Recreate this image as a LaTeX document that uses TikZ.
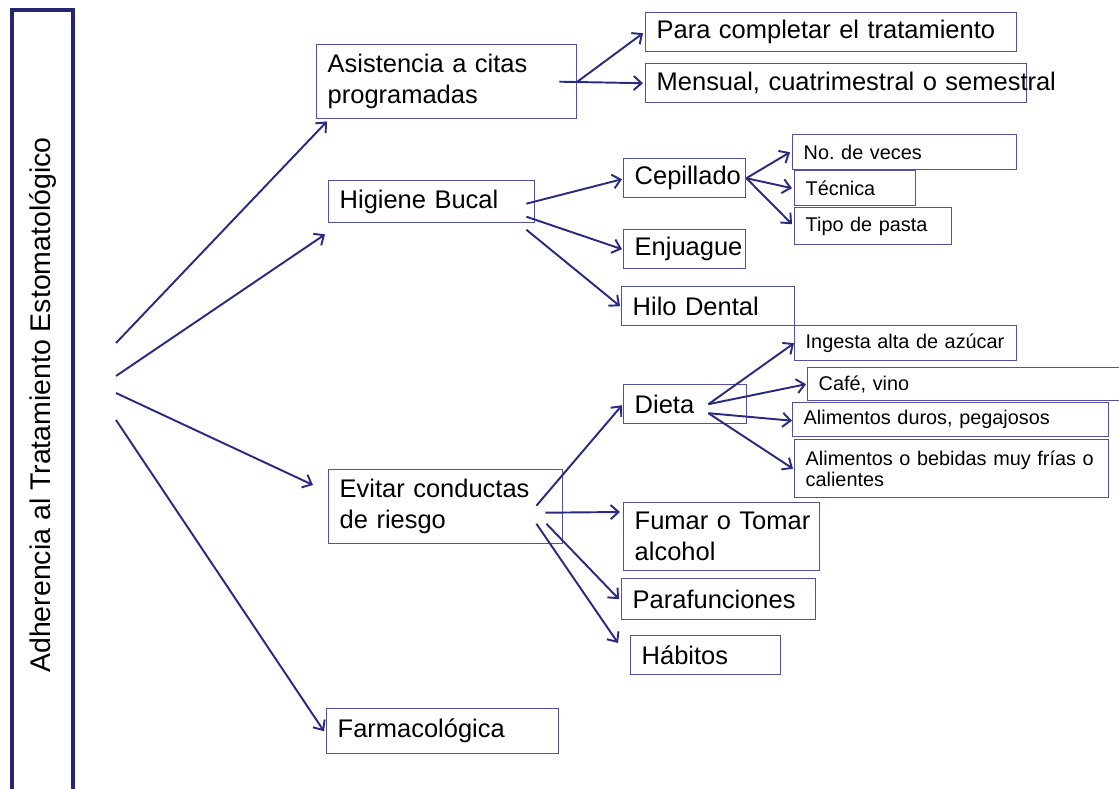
\documentclass[tikz,border=0pt]{standalone}
\usepackage{fontspec}
\setmainfont{Liberation Sans}
\usetikzlibrary{arrows.meta}
\frenchspacing

\definecolor{marco}{RGB}{38,38,112}
\definecolor{borde}{RGB}{82,82,160}
\definecolor{flechazul}{RGB}{42,42,130}

\tikzset{
	caja/.style = {draw = borde, line width = 0.8pt, anchor = north west, align = left, inner xsep = 0.22cm, inner ysep = 0pt, font = \fontsize{14.5}{17.6}\selectfont},
	cajita/.style = {caja, font = \fontsize{11.3}{12.2}\selectfont},
	flecha/.style = {-{Straight Barb[length = 4.5pt, width = 8pt]}, draw = flechazul, line width = 1.1pt}
}

\begin{document}
\begin{tikzpicture}[x = 0.02cm, y = -0.02cm]
		\clip (0,0) rectangle (1119,788);
		
		\draw [marco, line width = 1.8pt] (12,10) rectangle (73,800);
		\node [rotate = 90, font = \fontsize{16.2}{19}\selectfont] (adh) at (43,405) {Adherencia al Tratamiento Estomatológico};
		
		\node [caja, text width = 4.76cm, minimum height = 1.48cm] (asis) at (316,44) {\mbox{Asistencia a citas}\\programadas};
		\node [caja, text width = 6.98cm, minimum height = 0.78cm] (para) at (645,12) {Para completar el tratamiento};
		\node [caja, text width = 7.18cm, minimum height = 0.78cm] (mens) at (645,63) {\mbox{Mensual, cuatrimestral o semestral}};
		
		\node [caja, text width = 3.68cm, minimum height = 0.84cm] (hig) at (328,180) {Higiene Bucal};
		\node [caja, text width = 2.00cm, minimum height = 0.78cm] (cep) at (623,158) {Cepillado};
		\node [caja, text width = 2.00cm, minimum height = 0.78cm] (enj) at (623,229) {Enjuague};
		\node [caja, text width = 3.02cm, minimum height = 0.78cm] (hilo) at (621,286) {Hilo Dental};
		\node [cajita, text width = 4.04cm, minimum height = 0.70cm] (veces) at (792,134) {No. de veces};
		\node [cajita, text width = 1.98cm, minimum height = 0.70cm] (tec) at (794,170) {Técnica};
		\node [cajita, text width = 2.70cm, minimum height = 0.74cm] (pasta) at (794,207) {Tipo de pasta};
		
		\node [caja, text width = 4.24cm, minimum height = 1.48cm] (evitar) at (328,469) {\mbox{Evitar conductas}\\de riesgo};
		\node [caja, text width = 2.02cm, minimum height = 0.78cm] (dieta) at (623,384) {Dieta};
		\node [cajita, text width = 4.00cm, minimum height = 0.70cm] (ingesta) at (794,325) {Ingesta alta de azúcar};
		\node [cajita, text width = 6.16cm, minimum height = 0.66cm] (cafe) at (807,367) {Café, vino};
		\node [cajita, text width = 5.88cm, minimum height = 0.68cm] (duros) at (792,402) {Alimentos duros, pegajosos};
		\node [cajita, text width = 5.84cm, minimum height = 1.16cm] (bebidas) at (794,439) {\mbox{Alimentos o bebidas muy frías o}\\calientes};
		\node [caja, text width = 3.48cm, minimum height = 1.36cm] (fumar) at (623,502) {\mbox{Fumar o Tomar}\\alcohol};
		\node [caja, text width = 3.44cm, minimum height = 0.82cm] (parafun) at (621,578) {Parafunciones};
		\node [caja, text width = 2.56cm, minimum height = 0.78cm] (hab) at (630,635) {Hábitos};
		
		\node [caja, text width = 4.20cm, minimum height = 0.90cm] (farma) at (326,708) {Farmacológica};
		
		% salidas del tronco
		\coordinate (r1) at (116,343);
		\coordinate (r2) at (116,376);
		\coordinate (r3) at (116,393);
		\coordinate (r4) at (116,420);
		\draw [flecha] (r1) -- ([shift = {(11,2)}]asis.south west);
		\draw [flecha] (r2) -- ([shift = {(-3,11)}]hig.south west);
		\draw [flecha] (r3) -- ([shift = {(-15,16)}]evitar.north west);
		\draw [flecha] (r4) -- ([shift = {(-2,0)}]farma.west);
		
		% citas
		\draw [flecha] ([shift = {(-18,0)}]asis.east) -- ([shift = {(-2,0)}]mens.west);
		\draw [flecha] (asis.east) -- ([shift = {(-2,1)}]para.west);
		
		% higiene
		\draw [flecha] ([shift = {(-9,2)}]hig.east) -- ([shift = {(-1,1)}]cep.west);
		\draw [flecha] ([shift = {(-9,15)}]hig.east) -- ([shift = {(-1,0)}]enj.west);
		\draw [flecha] ([shift = {(-9,28)}]hig.east) -- ([shift = {(-1,0)}]hilo.west);
		\draw [flecha] (cep.east) -- ([shift = {(-2,0)}]veces.west);
		\draw [flecha] (cep.east) -- ([shift = {(-2,0)}]tec.west);
		\draw [flecha] (cep.east) -- ([shift = {(-2,-2)}]pasta.west);
		
		% conductas de riesgo
		\draw [flecha] ([shift = {(-27,-1)}]evitar.east) -- ([shift = {(-1,1)}]dieta.west);
		\draw [flecha] ([shift = {(-18,6)}]evitar.east) -- ([shift = {(-3,10)}]fumar.north west);
		\draw [flecha] ([shift = {(-17,17)}]evitar.east) -- ([shift = {(-2,0)}]parafun.west);
		\draw [flecha] ([shift = {(-27,17)}]evitar.east) -- ([shift = {(-12,8)}]hab.north west);
		\draw [flecha] ([shift = {(-39,0)}]dieta.east) -- (ingesta.west);
		\draw [flecha] ([shift = {(-39,0)}]dieta.east) -- ([shift = {(-1,0)}]cafe.west);
		\draw [flecha] ([shift = {(-39,9)}]dieta.east) -- ([shift = {(0,1)}]duros.west);
		\draw [flecha] ([shift = {(-39,9)}]dieta.east) -- ([shift = {(-1,0)}]bebidas.west);
	\end{tikzpicture}
\end{document}
